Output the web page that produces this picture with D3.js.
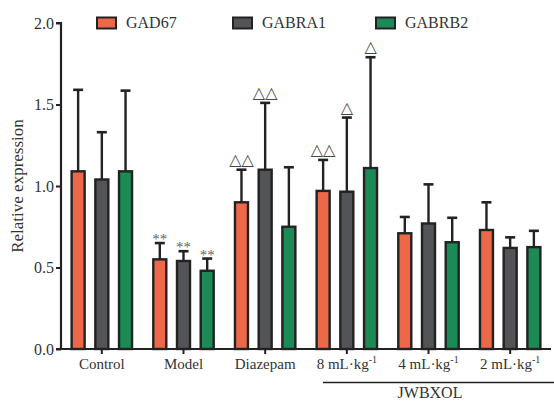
<!DOCTYPE html>
<html><head><meta charset="utf-8">
<script src="https://cdn.jsdelivr.net/npm/d3@7"></script>
<style>body{margin:0;background:#fff}svg{display:block}</style>
</head><body>
<svg id="c" width="554" height="401"></svg>
<script>
const categories = ["Control","Model","Diazepam","8 mL·kg-1","4 mL·kg-1","2 mL·kg-1"];
const seriesNames = ["GAD67","GABRA1","GABRB2"];
const colors = ["#EC6849","#525457","#1B8A55"];
const gad67 = [1.09,0.55,0.90,0.97,0.71,0.73];
const gad67Err = [0.50,0.10,0.20,0.19,0.10,0.17];
const gabra1 = [1.04,0.54,1.10,0.965,0.77,0.62];
const gabra1Err = [0.29,0.06,0.41,0.455,0.24,0.065];
const gabrb2 = [1.09,0.48,0.75,1.11,0.655,0.625];
const gabrb2Err = [0.495,0.075,0.365,0.68,0.15,0.10];
const marks = [["","",""],["**","**","**"],["△△","△△",""],["△△","△","△"],["","",""],["","",""]];
const yTicks = [0,0.5,1.0,1.5,2.0];

const SERIF = "'Liberation Serif','Times New Roman',Times,serif";
const svg = d3.select("#c");
const x = d3.scaleBand().domain(categories).range([61,551]).padding(0);
const y = d3.scaleLinear().domain([0,2]).range([349,23]);
const offs = d3.scaleBand().domain(seriesNames).range([-32,32]).paddingInner(0.3);
const vals = [gad67,gabra1,gabrb2], errs=[gad67Err,gabra1Err,gabrb2Err];
const bw = 13;

categories.forEach((c,i)=>{
  const cx = x(c)+x.bandwidth()/2;
  seriesNames.forEach((s,j)=>{
    const bx = cx + offs(s) + offs.bandwidth()/2;
    const v = vals[j][i], e = errs[j][i];
    svg.append("line").attr("x1",bx).attr("x2",bx).attr("y1",y(v)).attr("y2",y(v+e)).attr("stroke","#222").attr("stroke-width",2.4);
    svg.append("line").attr("x1",bx-5).attr("x2",bx+5).attr("y1",y(v+e)).attr("y2",y(v+e)).attr("stroke","#222").attr("stroke-width",2.6);
    svg.append("rect").attr("x",bx-bw/2).attr("y",y(v)).attr("width",bw).attr("height",y(0)-y(v)).attr("fill",colors[j]).attr("stroke","#222").attr("stroke-width",2.4);
    const m = marks[i][j];
    if(m){
      const star = m[0]==="*";
      svg.append("text").attr("x",bx).attr("y",y(v+e)+(star?1:-5)).attr("text-anchor","middle")
        .style("font-size",(star?15:16)+"px").attr("fill",star?"#666":"#444")
        .style("font-family", star?SERIF:"'DejaVu Sans',sans-serif").text(m);
    }
  });
});

// axes
const yAxis = d3.axisLeft(y).tickValues(yTicks).tickFormat(d3.format(".1f")).tickSize(5).tickPadding(2);
const gy = svg.append("g").attr("transform","translate(61,0)").call(yAxis);
gy.select(".domain").attr("stroke","#222").attr("stroke-width",2.2).attr("d","M-5,23H0V349H-5");
gy.selectAll(".tick line").attr("stroke","#222").attr("stroke-width",2);
gy.selectAll("text").style("font-size","16px").attr("fill","#333").style("font-family",SERIF);

const xAxis = d3.axisBottom(x).tickSize(5).tickPadding(3).tickFormat(()=> "");
const gx = svg.append("g").attr("transform","translate(0,349)").call(xAxis);
gx.select(".domain").attr("stroke","#222").attr("stroke-width",2.2).attr("d","M61,0H551");
gx.selectAll(".tick line").attr("stroke","#222").attr("stroke-width",2);
gx.selectAll(".tick").each(function(d){
  const t = d3.select(this).append("text").attr("y",20).attr("text-anchor","middle").style("font-size","15px").style("font-family",SERIF).attr("fill","#333");
  const m = d.match(/^(.*)-1$/);
  if(m){ t.text(m[1]); t.append("tspan").attr("dy",-6).style("font-size","10px").text("-1"); }
  else t.text(d);
});

// group label
svg.append("line").attr("x1",323).attr("x2",554).attr("y1",382.5).attr("y2",382.5).attr("stroke","#222").attr("stroke-width",1.5);
svg.append("text").attr("x",430).attr("y",398).attr("text-anchor","middle").style("font-size","16px").style("font-family",SERIF).attr("fill","#333").text("JWBXOL");

// y title
svg.append("text").attr("transform","translate(23,186) rotate(-90)").attr("text-anchor","middle").style("font-size","17px").style("font-family",SERIF).attr("fill","#333").text("Relative expression");

// legend
const legX = [97,233,376];
seriesNames.forEach((s,j)=>{
  svg.append("rect").attr("x",legX[j]).attr("y",17.5).attr("width",19).attr("height",11).attr("fill",colors[j]).attr("stroke","#222").attr("stroke-width",2);
  svg.append("text").attr("x",legX[j]+29).attr("y",28).style("font-size","16px").style("font-family",SERIF).attr("fill","#333").text(s);
});
</script>
</body></html>
